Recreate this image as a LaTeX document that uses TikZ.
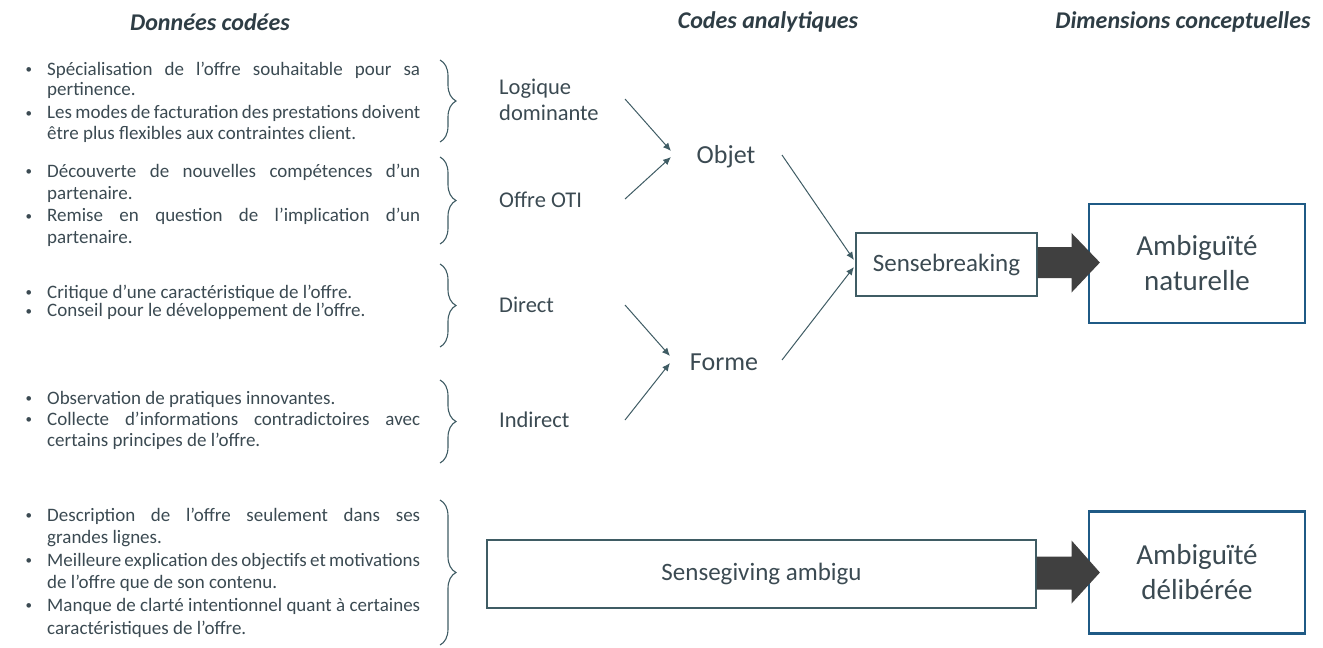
\documentclass[tikz,border=0pt]{standalone}
\usepackage{fontspec}
\setmainfont{Carlito}
\usetikzlibrary{calc,decorations.pathreplacing,arrows.meta}
\definecolor{txt}{HTML}{3B4A52}
\definecolor{hdr}{HTML}{2E3D45}
\definecolor{ln}{HTML}{3F5C64}
\definecolor{bluebox}{HTML}{1F5A85}
\definecolor{arrfill}{HTML}{404040}
\newcommand{\bul}{\makebox[23pt][l]{\hspace{1.5pt}{\fontsize{13}{13}\selectfont\raisebox{1.5pt}{•}}}}
% bulleted justified line / bulleted last line / continuation justified / continuation last
\newcommand{\bj}[1]{\noindent\bul\makebox[373pt][s]{#1}\par}
\newcommand{\bn}[1]{\noindent\bul#1\par}
\newcommand{\cj}[1]{\noindent\hspace*{23pt}\makebox[373pt][s]{#1}\par}
\newcommand{\cn}[1]{\noindent\hspace*{23pt}#1\par}
\newcommand{\dblock}[1]{\parbox[t]{396pt}{#1}}
\begin{document}
\begin{tikzpicture}[x=1pt,y=-1pt,
  every node/.style={text=txt},
  head/.style={font=\fontsize{24}{26}\selectfont\bfseries\itshape, inner sep=0, text=hdr},
  data/.style={anchor=base west, inner sep=0},
  code/.style={font=\fontsize{22.5}{26}\selectfont, inner sep=0, align=left},
  mid/.style={font=\fontsize{26}{30}\selectfont, inner sep=0},
  thinbox/.style={draw=ln, line width=1.1pt, font=\fontsize{25}{30}\selectfont, inner sep=0},
  bigbox/.style={draw=bluebox, line width=2.2pt, font=\fontsize{29}{35}\selectfont, inner sep=0, align=center},
  arr/.style={draw=ln, line width=1pt, -{Latex[length=8pt,width=7pt]}},
  brc/.style={draw=ln, line width=1.1pt, decorate, decoration={brace, amplitude=16pt}},
  bigarr/.style={fill=arrfill}
]
\useasboundingbox (0,0) rectangle (1323,648);

% headers
\node[head] (h1) at (210,22) {Données codées};
\node[head] (h2) at (768,22) {Codes analytiques};
\node[head] (h3) at (1183,22) {Dimensions conceptuelles};

% data blocks
\node[data, font=\fontsize{19}{20.7}\selectfont] (d1) at (24,75) {\dblock{%
  \bj{Spécialisation de l’offre souhaitable pour sa}
  \cn{pertinence.}\vspace{2.5pt}
  \bj{Les modes de facturation des prestations doivent}
  \cn{être plus flexibles aux contraintes client.}}};
\node[data, font=\fontsize{19}{22.3}\selectfont] (d2) at (24,177) {\dblock{%
  \bj{Découverte de nouvelles compétences d’un}
  \cn{partenaire.}
  \bj{Remise en question de l’implication d’un}
  \cn{partenaire.}}};
\node[data, font=\fontsize{19}{18.5}\selectfont] (d3) at (24,298) {\dblock{%
  \bn{Critique d’une caractéristique de l’offre.}
  \bn{Conseil pour le développement de l’offre.}}};
\node[data, font=\fontsize{19}{21}\selectfont] (d4) at (24,404) {\dblock{%
  \bn{Observation de pratiques innovantes.}
  \bj{Collecte d’informations contradictoires avec}
  \cn{certains principes de l’offre.}}};
\node[data, font=\fontsize{19}{22.6}\selectfont] (d5) at (24,521) {\dblock{%
  \bj{Description de l’offre seulement dans ses}
  \cn{grandes lignes.}
  \bj{Meilleure explication des objectifs et motivations}
  \cn{de l’offre que de son contenu.}
  \bj{Manque de clarté intentionnel quant à certaines}
  \cn{caractéristiques de l’offre.}}};

% braces
\draw[brc] (440,60) -- (440,142);
\draw[brc] (440,157) -- (440,244);
\draw[brc] (440,264) -- (440,347);
\draw[brc] (440,380) -- (440,463);
\draw[brc] (440,500) -- (440,645);

% analytic codes
\node[code, anchor=west] (log) at (499,100) {Logique\\dominante};
\node[code, anchor=west] (oti) at (499,200) {Offre OTI};
\node[code, anchor=west] (dir) at (499,305) {Direct};
\node[code, anchor=west] (ind) at (499,420) {Indirect};
\node[mid] (obj) at (726,157) {Objet};
\node[mid] (frm) at (724,362) {Forme};

% boxes
\node[thinbox, minimum width=181pt, minimum height=63pt] (sb) at (946.5,264.5) {Sensebreaking};
\node[bigbox, minimum width=216pt, minimum height=119pt] (an) at (1197,263.5) {Ambiguïté\\naturelle};
\node[thinbox, minimum width=549pt, minimum height=68pt] (sg) at (761.5,574) {Sensegiving ambigu};
\node[bigbox, minimum width=216pt, minimum height=122pt] (ad) at (1197,572.5) {Ambiguïté\\délibérée};

% thin arrows
\draw[arr] ($(log.west)+(126,-1)$) -- ($(obj.center)+(-55,-6)$);
\draw[arr] ($(oti.west)+(126,-1)$) -- ($(obj.center)+(-55,0)$);
\draw[arr] ($(obj.center)+(56,-2)$) -- ($(sb.west)+(-1.5,-4.5)$);
\draw[arr] ($(dir.west)+(126,0)$) -- ($(frm.center)+(-54,-6)$);
\draw[arr] ($(ind.west)+(126,0)$) -- ($(frm.center)+(-54,1)$);
\draw[arr] ($(frm.center)+(58,-2)$) -- ($(sb.west)+(-1.5,2.5)$);

% big arrows
\fill[bigarr] ($(sb.east)+(0,-17.5)$) -- ($(sb.east)+(34,-17.5)$) -- ($(sb.east)+(34,-31.5)$)
   -- ($(an.west)+(12,-1)$) -- ($(sb.east)+(34,28)$) -- ($(sb.east)+(34,13.5)$) -- ($(sb.east)+(0,13.5)$) -- cycle;
\fill[bigarr] ($(sg.east)+(0,-17.5)$) -- ($(sg.east)+(35,-17.5)$) -- ($(sg.east)+(35,-33.5)$)
   -- ($(ad.west)+(12,0)$) -- ($(sg.east)+(35,29.5)$) -- ($(sg.east)+(35,15.5)$) -- ($(sg.east)+(0,15.5)$) -- cycle;
\end{tikzpicture}
\end{document}
